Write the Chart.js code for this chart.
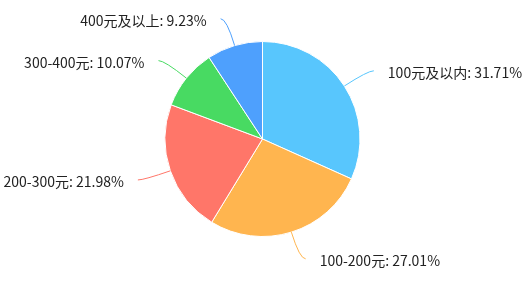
<!DOCTYPE html>
<html>
<head>
<meta charset="utf-8">
<script src="https://cdn.jsdelivr.net/npm/chart.js@4"></script>
<style>
  body { margin: 0; background: #fff; }
  #wrap { width: 524px; height: 285px; }
</style>
</head>
<body>
<div id="wrap"><canvas id="pieCanvas" width="524" height="285"></canvas></div>
<script>
const categories = ["100元及以内", "100-200元", "200-300元", "300-400元", "400元及以上"];
const shares = [31.71, 27.01, 21.98, 10.07, 9.23];
const colors = ["#58c6fd", "#ffb54f", "#ff7669", "#48da62", "#4ea0fd"];

// outside labels with leader lines, echarts style
const outsideLabels = {
  id: "outsideLabels",
  afterDatasetsDraw(chart) {
    const ctx = chart.ctx;
    const arcs = chart.getDatasetMeta(0).data;
    const len1 = 28, len2 = 6, gap = 14;
    ctx.save();
    ctx.font = "14px 'Noto Sans CJK SC', 'Noto Sans', sans-serif";
    ctx.textBaseline = "middle";
    arcs.forEach((arc, i) => {
      const mid = (arc.startAngle + arc.endAngle) / 2;
      const cx = arc.x, cy = arc.y, r = arc.outerRadius;
      const dx = Math.cos(mid), dy = Math.sin(mid);
      const side = dx >= 0 ? 1 : -1;
      const x0 = cx + r * dx, y0 = cy + r * dy;
      const x1 = cx + (r + len1) * dx, y1 = cy + (r + len1) * dy;
      const x2 = x1 + side * len2, y2 = y1;
      ctx.strokeStyle = colors[i];
      ctx.lineWidth = 1;
      ctx.beginPath();
      ctx.moveTo(x0, y0);
      ctx.quadraticCurveTo(x1, y1, x2, y2);
      ctx.stroke();
      ctx.fillStyle = "#222";
      ctx.textAlign = side > 0 ? "left" : "right";
      ctx.fillText(categories[i] + ": " + shares[i].toFixed(2) + "%", x2 + side * gap, y2 + 2);
    });
    ctx.restore();
  }
};

new Chart(document.getElementById("pieCanvas"), {
  type: "pie",
  data: {
    labels: categories,
    datasets: [{
      data: shares,
      backgroundColor: colors,
      borderColor: "#fff",
      borderWidth: 1,
    }],
  },
  options: {
    responsive: false,
    animation: false,
    layout: { padding: { top: 41, bottom: 48, left: 1, right: 0 } },
    plugins: { legend: { display: false }, tooltip: { enabled: false } },
  },
  plugins: [outsideLabels],
});
</script>
</body>
</html>
